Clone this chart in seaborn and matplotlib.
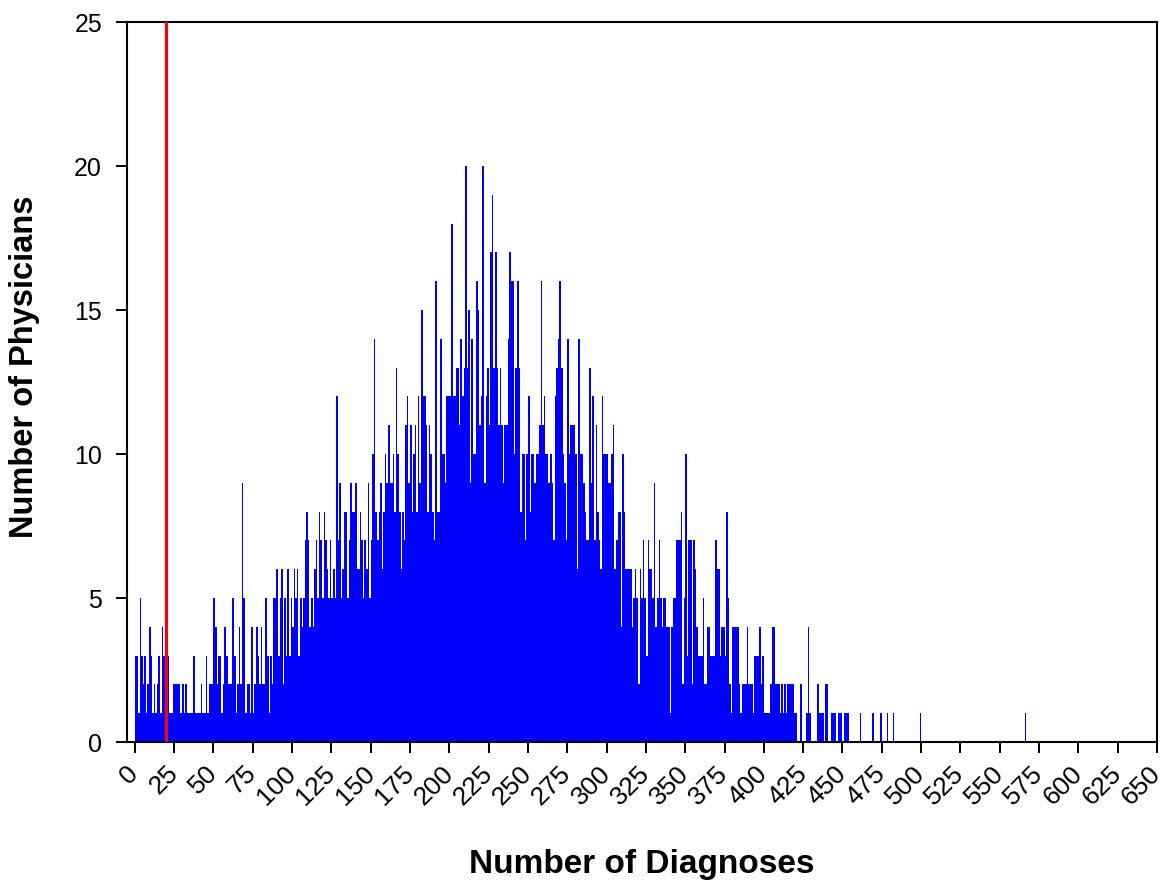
import pandas as pd
import matplotlib
matplotlib.use("Agg")
import matplotlib.pyplot as plt
import seaborn as sns

# physicians per number-of-diagnoses bin (bin width 1), bins 0..489
counts_0_99 = [
    3, 3, 1, 5, 3, 2, 3, 1, 2, 4,
    3, 1, 2, 1, 2, 3, 1, 4, 3, 2,
    1, 3, 1, 1, 2, 2, 2, 2, 2, 1,
    2, 1, 2, 1, 1, 1, 1, 3, 1, 1,
    1, 1, 2, 1, 1, 3, 1, 2, 2, 2,
    5, 4, 2, 3, 3, 1, 2, 4, 3, 2,
    2, 2, 5, 3, 1, 2, 4, 2, 9, 5,
    1, 2, 2, 1, 4, 1, 2, 4, 3, 2,
    4, 2, 2, 5, 3, 1, 3, 2, 5, 5,
    6, 3, 5, 6, 2, 5, 3, 6, 3, 5,
]
counts_100_199 = [
    4, 6, 5, 6, 3, 5, 4, 5, 7, 8,
    7, 4, 5, 4, 6, 7, 5, 8, 7, 5,
    8, 7, 6, 5, 7, 5, 6, 5, 12, 7,
    9, 5, 6, 8, 8, 5, 7, 9, 8, 8,
    9, 6, 6, 8, 7, 5, 7, 6, 9, 5,
    7, 10, 14, 8, 7, 8, 9, 6, 8, 10,
    9, 11, 9, 9, 10, 8, 13, 10, 8, 6,
    8, 7, 11, 12, 9, 11, 8, 10, 11, 8,
    12, 9, 15, 12, 12, 11, 8, 11, 10, 8,
    7, 16, 8, 8, 14, 10, 10, 9, 12, 12,
]
counts_200_299 = [
    12, 18, 12, 12, 13, 13, 11, 14, 12, 13,
    20, 13, 15, 9, 14, 10, 10, 16, 15, 11,
    12, 20, 9, 12, 13, 11, 17, 19, 13, 17,
    13, 11, 13, 11, 9, 11, 11, 14, 17, 16,
    16, 10, 13, 16, 13, 8, 10, 10, 7, 10,
    12, 8, 10, 10, 9, 10, 10, 11, 16, 11,
    12, 10, 10, 9, 10, 9, 7, 12, 13, 14,
    16, 13, 10, 9, 7, 14, 10, 11, 11, 11,
    10, 6, 14, 10, 10, 9, 8, 7, 7, 13,
    9, 12, 7, 11, 8, 7, 6, 12, 10, 10,
]
counts_300_399 = [
    10, 9, 9, 10, 11, 6, 7, 8, 8, 4,
    10, 8, 6, 6, 6, 6, 4, 5, 6, 5,
    2, 6, 5, 7, 5, 3, 7, 6, 6, 5,
    9, 4, 5, 7, 5, 4, 5, 5, 4, 4,
    1, 4, 5, 5, 7, 7, 7, 8, 2, 5,
    10, 3, 7, 7, 2, 7, 6, 4, 3, 3,
    3, 5, 2, 2, 4, 4, 3, 3, 3, 7,
    6, 6, 3, 4, 4, 3, 8, 5, 2, 1,
    4, 4, 4, 4, 2, 1, 2, 2, 2, 4,
    2, 2, 2, 1, 3, 3, 3, 4, 2, 3,
]
counts_400_489 = [
    1, 1, 1, 1, 2, 4, 4, 2, 2, 2,
    1, 2, 1, 2, 1, 2, 2, 2, 2, 1,
    1, 0, 0, 2, 0, 0, 0, 1, 4, 1,
    0, 0, 0, 0, 2, 1, 1, 1, 0, 2,
    2, 0, 0, 1, 1, 1, 0, 1, 1, 1,
    0, 1, 1, 1, 0, 0, 0, 0, 0, 0,
    0, 1, 0, 0, 0, 0, 0, 0, 0, 1,
    0, 0, 0, 0, 1, 0, 0, 0, 1, 0,
    0, 0, 1, 0, 0, 0, 0, 0, 0, 0,
]
# isolated outliers in the far tail
tail_bins = [499, 566]
tail_counts = [1, 1]

threshold = 20
x_ticks = list(range(0, 651, 25))
y_ticks = [0, 5, 10, 15, 20, 25]

counts = counts_0_99 + counts_100_199 + counts_200_299 + counts_300_399 + counts_400_489
df = pd.DataFrame({
    "diagnoses": list(range(len(counts))) + tail_bins,
    "physicians": counts + tail_counts,
})

sns.set_theme(style="white")
plt.rcParams["font.family"] = ["Liberation Sans", "DejaVu Sans"]

fig, ax = plt.subplots(figsize=(11.63, 8.85), dpi=100)
fig.subplots_adjust(left=127 / 1163, right=1157 / 1163, top=1 - 22 / 885, bottom=1 - 742 / 885)

sns.histplot(data=df, x="diagnoses", weights="physicians", binwidth=1, binrange=(0, 570),
             color="#0000FF", alpha=1, linewidth=0, element="bars", ax=ax)
ax.axvline(threshold, color="#FF0000", linewidth=2.2, zorder=5)

ax.set_xlim(-5, 650)
ax.set_ylim(0, 25)
ax.set_xticks(x_ticks)
ax.set_xticklabels([str(t) for t in x_ticks], rotation=45, ha="right", va="center",
                   rotation_mode="anchor")
ax.set_yticks(y_ticks)
ax.tick_params(axis="both", direction="out", length=8, width=1.4, colors="black",
               labelcolor="black", top=False, right=False)
ax.tick_params(axis="x", bottom=True, labelsize=19, pad=12)
ax.tick_params(axis="y", left=True, labelsize=18, pad=10)
for s in ax.spines.values():
    s.set_color("black")
    s.set_linewidth(1.5)

ax.set_xlabel("Number of Diagnoses", fontsize=24, fontweight="bold", color="black")
ax.set_ylabel("Number of Physicians", fontsize=23.5, fontweight="bold", color="black")
ax.xaxis.set_label_coords(0.5, -0.148)
ax.yaxis.set_label_coords(-0.084, 0.521)
ax.grid(False)

plt.savefig("out.png", dpi=100)
plt.close()
